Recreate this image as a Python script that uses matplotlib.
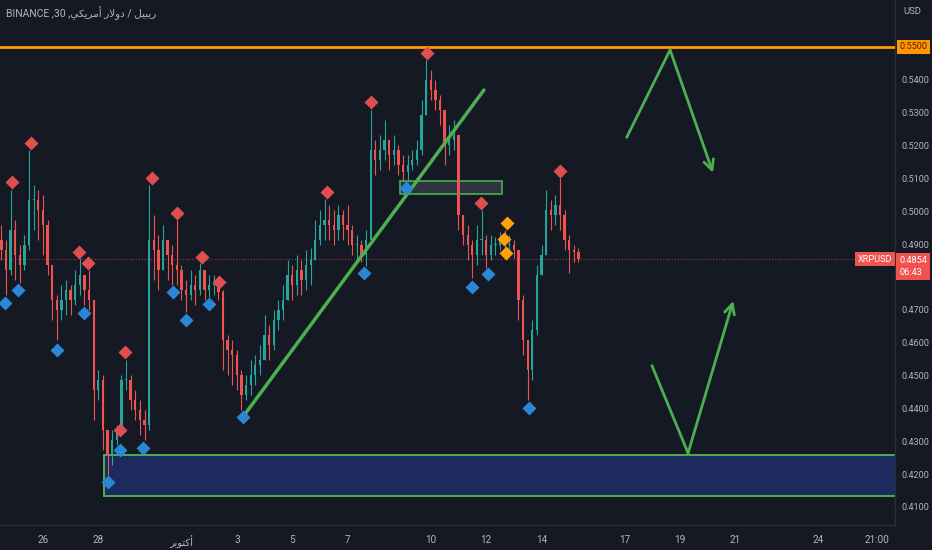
import matplotlib
matplotlib.use('Agg')
import matplotlib.pyplot as plt
import matplotlib.transforms as mtransforms
from matplotlib.patches import Rectangle
import numpy as np

plt.rcParams['font.family'] = ['Roboto', 'DejaVu Sans']

# x axis = days since 1 Oct, 4h candles
start_day = -6.5
step = 1 / 6
first_open = 0.4913

closes = [
    0.4882, 0.4821, 0.4943, 0.4867, 0.4837, 0.4897, 0.5034, 0.5034, 0.5004, 0.4958,
    0.4837, 0.4730, 0.4700, 0.4730, 0.4760, 0.4730, 0.4776, 0.4806, 0.4760, 0.4730,
    0.4456, 0.4487, 0.4334, 0.4258, 0.4304, 0.4334, 0.4487, 0.4487, 0.4426, 0.4395,
    0.4365, 0.4350, 0.4913, 0.4882, 0.4821, 0.4913, 0.4867, 0.4837, 0.4821, 0.4760,
    0.4745, 0.4776, 0.4760, 0.4821, 0.4760, 0.4776, 0.4776, 0.4754, 0.4608, 0.4578,
    0.4563, 0.4502, 0.4441, 0.4471, 0.4502, 0.4532, 0.4548, 0.4624, 0.4593, 0.4669,
    0.4700, 0.4730, 0.4806, 0.4776, 0.4821, 0.4791, 0.4837, 0.4852, 0.4913, 0.4958,
    0.4974, 0.4958, 0.4943, 0.4989, 0.4958, 0.4943, 0.4897, 0.4897, 0.4867, 0.4913,
    0.5187, 0.5156, 0.5187, 0.5217, 0.5171, 0.5187, 0.5141, 0.5120, 0.5141, 0.5156,
    0.5187, 0.5293, 0.5400, 0.5369, 0.5339, 0.5308, 0.5202, 0.5217, 0.5232, 0.4989,
    0.4928, 0.4897, 0.4867, 0.4913, 0.4913, 0.4867, 0.4897, 0.4897, 0.4913, 0.4897,
    0.4897, 0.4882, 0.4730, 0.4608, 0.4517, 0.4639, 0.4806, 0.4867, 0.5004, 0.4989,
    0.5019, 0.4989, 0.4913, 0.4882, 0.4876, 0.4854]

highs = [
    0.4958, 0.4913, 0.5065, 0.4974, 0.4897, 0.4928, 0.5187, 0.5080, 0.5065, 0.5050,
    0.4974, 0.4837, 0.4745, 0.4776, 0.4791, 0.4776, 0.4821, 0.4858, 0.4806, 0.4821,
    0.4730, 0.4517, 0.4502, 0.4304, 0.4334, 0.4350, 0.4502, 0.4548, 0.4502, 0.4456,
    0.4426, 0.4395, 0.5080, 0.4989, 0.4928, 0.4958, 0.4913, 0.4897, 0.4974, 0.4837,
    0.4791, 0.4821, 0.4806, 0.4843, 0.4821, 0.4806, 0.4806, 0.4782, 0.4760, 0.4624,
    0.4608, 0.4578, 0.4517, 0.4502, 0.4548, 0.4563, 0.4593, 0.4685, 0.4654, 0.4700,
    0.4730, 0.4776, 0.4852, 0.4837, 0.4867, 0.4852, 0.4882, 0.4888, 0.4974, 0.5004,
    0.5037, 0.5019, 0.5004, 0.5019, 0.5004, 0.5019, 0.4958, 0.4928, 0.4913, 0.4943,
    0.5308, 0.5217, 0.5232, 0.5278, 0.5217, 0.5232, 0.5202, 0.5171, 0.5171, 0.5187,
    0.5217, 0.5339, 0.5460, 0.5430, 0.5400, 0.5354, 0.5308, 0.5263, 0.5278, 0.5217,
    0.4989, 0.4958, 0.4913, 0.4958, 0.5004, 0.4928, 0.4928, 0.4922, 0.4937, 0.4943,
    0.4928, 0.4913, 0.4882, 0.4745, 0.4608, 0.4669, 0.4837, 0.4897, 0.5065, 0.5034,
    0.5050, 0.5101, 0.5004, 0.4928, 0.4897, 0.4888]

lows = [
    0.4852, 0.4745, 0.4806, 0.4791, 0.4782, 0.4821, 0.4882, 0.4943, 0.4913, 0.4867,
    0.4806, 0.4669, 0.4608, 0.4669, 0.4685, 0.4685, 0.4715, 0.4745, 0.4715, 0.4700,
    0.4365, 0.4426, 0.4274, 0.4198, 0.4228, 0.4289, 0.4334, 0.4456, 0.4395, 0.4365,
    0.4319, 0.4304, 0.4334, 0.4791, 0.4760, 0.4837, 0.4791, 0.4776, 0.4776, 0.4730,
    0.4694, 0.4730, 0.4715, 0.4745, 0.4730, 0.4739, 0.4745, 0.4730, 0.4517, 0.4502,
    0.4471, 0.4456, 0.4395, 0.4426, 0.4441, 0.4471, 0.4502, 0.4548, 0.4548, 0.4578,
    0.4639, 0.4669, 0.4730, 0.4730, 0.4745, 0.4745, 0.4760, 0.4776, 0.4852, 0.4897,
    0.4913, 0.4913, 0.4897, 0.4913, 0.4913, 0.4897, 0.4867, 0.4852, 0.4846, 0.4834,
    0.4913, 0.5110, 0.5126, 0.5156, 0.5126, 0.5141, 0.5110, 0.5095, 0.5089, 0.5126,
    0.5141, 0.5171, 0.5293, 0.5339, 0.5308, 0.5263, 0.5141, 0.5171, 0.5187, 0.4943,
    0.4897, 0.4852, 0.4797, 0.4837, 0.4867, 0.4827, 0.4852, 0.4867, 0.4882, 0.4867,
    0.4867, 0.4858, 0.4669, 0.4563, 0.4426, 0.4487, 0.4624, 0.4806, 0.4867, 0.4943,
    0.4958, 0.4943, 0.4882, 0.4812, 0.4846, 0.4846]

# pivot markers (day, price)
pivot_high_days = [-6.12, -5.43, -3.70, -3.38, -2.04, -2.22, -1.06, -0.16, 0.74, 1.35,
                   5.25, 6.84, 8.86, 10.81, 13.66]
pivot_high_prices = [0.5089, 0.5208, 0.4876, 0.4843, 0.4572, 0.4334, 0.5101, 0.4995, 0.4861, 0.4785,
                     0.5059, 0.5333, 0.5482, 0.5025, 0.5123]
pivot_low_days = [-6.37, -5.90, -4.49, -3.52, -2.65, -2.22, -1.39, -0.31, 0.16, 0.99,
                  2.22, 6.59, 8.10, 10.49, 11.06, 12.55]
pivot_low_prices = [0.4721, 0.4760, 0.4578, 0.4691, 0.4176, 0.4274, 0.4280, 0.4754, 0.4669, 0.4718,
                    0.4374, 0.4812, 0.5071, 0.4770, 0.4809, 0.4401]
warn_days = [11.75, 11.64, 11.71]
warn_prices = [0.4964, 0.4916, 0.4873]

# drawings
resistance = 0.5500
last_price = 0.4854
trend_days = [2.22, 10.92]
trend_prices = [0.4374, 0.5369]
flip_box_days = [7.89, 11.57]
flip_box_prices = [0.5053, 0.5092]
zone_start = -2.80
zone_prices = [0.4134, 0.4258]
up_path_days = [16.08, 17.64, 19.19]
up_path_prices = [0.5226, 0.5491, 0.5117]
down_path_days = [16.99, 18.29, 19.92]
down_path_prices = [0.4529, 0.4264, 0.4727]

tick_days = [-5, -3, 0, 2, 4, 6, 9, 11, 13, 16, 18, 20, 23, 25.1]
tick_labels = ['26', '28', '\uFEAE\uFE91\uFEEE\uFE98\uFEDB\uFE83', '3', '5', '7', '10', '12',
               '14', '17', '19', '21', '24', '21:00']
price_ticks = [0.41, 0.42, 0.43, 0.44, 0.45, 0.46, 0.47, 0.49, 0.50, 0.51, 0.52, 0.53, 0.54]

title = ('BINANCE ,30 ,' + '\uFEF2\uFEDC\uFEF3\uFEAE\uFEE3\uFE83' + ' '
         + '\uFEAD\uFEFB\uFEED\uFEA9' + ' / ' + '\uFEDE\uFEF4\uFE92\uFEF3\uFEAD')

bg = '#151924'
txt = '#b2b5be'
green = '#4caf50'
up_c = '#26a69a'
dn_c = '#ef5350'


def main():
    fig = plt.figure(figsize=(9.32, 5.5), dpi=100, facecolor=bg)
    ax = fig.add_axes([0, 25 / 550, 895 / 932, 525 / 550])
    ax.set_facecolor(bg)

    days = start_day + np.arange(len(closes)) * step
    c = np.array(closes)
    o = np.array([first_open] + closes[:-1])
    h = np.maximum(np.array(highs), np.maximum(o, c))
    l = np.minimum(np.array(lows), np.minimum(o, c))
    cols = np.where(c >= o, up_c, dn_c)

    # demand zone and flip box
    ax.add_patch(Rectangle((zone_start, zone_prices[0]), 40, zone_prices[1] - zone_prices[0],
                           fc='#1c2a5e', ec=green, lw=1.4, zorder=1))
    ax.add_patch(Rectangle((flip_box_days[0], flip_box_prices[0]),
                           flip_box_days[1] - flip_box_days[0],
                           flip_box_prices[1] - flip_box_prices[0],
                           fc='#30343f', ec=green, lw=1.2, zorder=1))

    # candles
    ax.vlines(days, l, h, colors=cols, lw=0.8, zorder=2)
    body = np.maximum(np.abs(c - o), 0.0003)
    ax.bar(days, body, bottom=np.minimum(o, c), width=step * 0.5, color=cols,
           lw=0, zorder=3)

    ax.axhline(resistance, color='#ff9800', lw=2, zorder=4)
    ax.axhline(last_price, color=dn_c, lw=0.8, ls=':', alpha=0.6, zorder=1)

    ax.plot(trend_days, trend_prices, color=green, lw=2.5, zorder=4, solid_capstyle='round')

    ax.plot(pivot_high_days, pivot_high_prices, 'D', ms=7, color='#e04f4f', mec='none', zorder=5)
    ax.plot(pivot_low_days, pivot_low_prices, 'D', ms=7, color='#2a87d6', mec='none', zorder=5)
    ax.plot(warn_days, warn_prices, 'D', ms=7, color='#ff9f0a', mec='none', zorder=5)

    # scenario arrows
    for pd_, pp in [(up_path_days, up_path_prices), (down_path_days, down_path_prices)]:
        ax.plot(pd_[:2], pp[:2], color=green, lw=2, zorder=4)
        ax.annotate('', xy=(pd_[2], pp[2]), xytext=(pd_[1], pp[1]),
                    arrowprops=dict(arrowstyle='->', color=green, lw=2,
                                    shrinkA=0, shrinkB=0, mutation_scale=18), zorder=4)

    ax.set_xlim(-6.55, 25.76)
    ax.set_ylim(0.4045, 0.5643)

    for s in ['top', 'left']:
        ax.spines[s].set_visible(False)
    for s in ['right', 'bottom']:
        ax.spines[s].set_color('#2a2e39')
        ax.spines[s].set_linewidth(1)

    ax.yaxis.tick_right()
    ax.set_yticks(price_ticks)
    ax.set_yticklabels(['%.4f' % p for p in price_ticks])
    ax.tick_params(axis='y', length=0, pad=4.5, labelsize=6.6, labelcolor=txt)
    ax.set_xticks(tick_days)
    ax.set_xticklabels(tick_labels)
    ax.tick_params(axis='x', length=0, pad=7, labelsize=7.2, labelcolor=txt)

    blend = mtransforms.blended_transform_factory(ax.transAxes, ax.transData)
    ax.text(1.005, resistance, '%.4f' % resistance, transform=blend, ha='left', va='center',
            fontsize=6.6, color='#5a1e00', clip_on=False,
            bbox=dict(boxstyle='square,pad=0.3', fc='#ff9800', ec='none'))
    ax.text(1.005, last_price - 0.0022, '%.4f\n06:43' % last_price, transform=blend,
            ha='left', va='center', fontsize=6.6, color='white', clip_on=False, linespacing=1.45,
            bbox=dict(boxstyle='square,pad=0.35', fc=dn_c, ec='none'))
    ax.text(0.997, last_price, 'XRPUSD', transform=blend, ha='right', va='center',
            fontsize=6.6, color='white', clip_on=False,
            bbox=dict(boxstyle='square,pad=0.3', fc=dn_c, ec='none'))

    fig.text(6 / 932, 1 - 13 / 550, title, fontsize=7.5, color=txt, va='center', ha='left')
    fig.text(903 / 932, 1 - 12 / 550, 'USD', fontsize=6.8, color=txt, va='center', ha='left')

    fig.savefig('out.png', dpi=100, facecolor=bg)


if __name__ == '__main__':
    main()
